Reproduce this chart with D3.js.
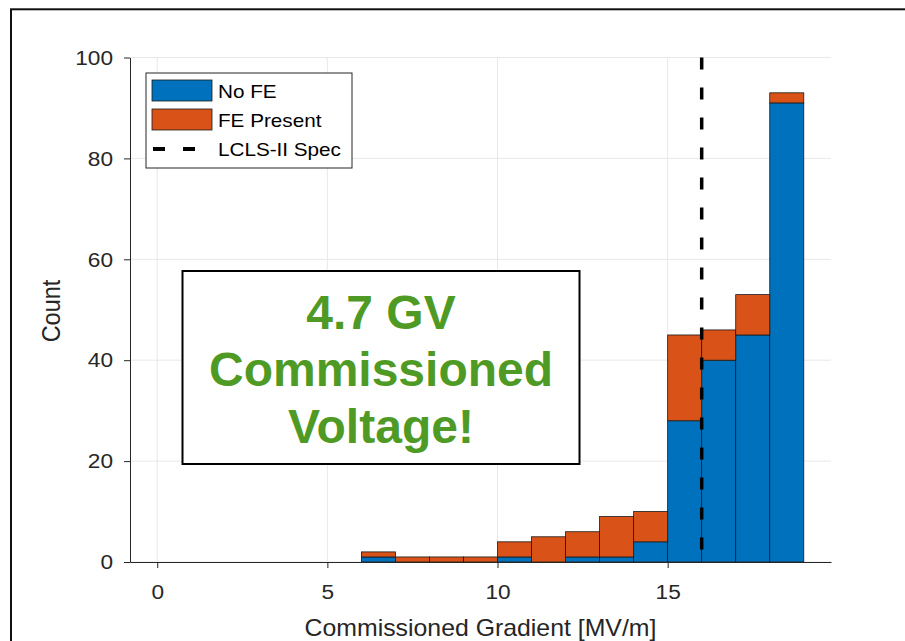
<!DOCTYPE html>
<html>
<head>
<meta charset="utf-8">
<script src="https://cdn.jsdelivr.net/npm/d3@7/dist/d3.min.js"></script>
<style>
  html, body { margin: 0; padding: 0; background: #fff; }
  svg { display: block; font-family: Arial, "Liberation Sans", sans-serif; }
</style>
</head>
<body>
<svg id="chart" width="905" height="641"></svg>
<script>
// Histogram bins (1 MV/m wide, labelled by lower edge)
const binStarts = [6, 7, 8, 9, 10, 11, 12, 13, 14, 15, 16, 17, 18];
// Cavity counts per bin
const noFE      = [1, 0, 0, 0, 1, 0, 1, 1, 4, 28, 40, 45, 91];
const fePresent = [1, 1, 1, 1, 3, 5, 5, 8, 6, 17, 6, 8, 2];
// Axis ticks
const xTicks = [0, 5, 10, 15];
const yTicks = [0, 20, 40, 60, 80, 100];
// LCLS-II specification gradient
const specGradient = 16;
// Series names / legend
const seriesKeys = ["noFE", "fePresent"];
const seriesLabels = ["No FE", "FE Present"];
const specLabel = "LCLS-II Spec";
const seriesColors = ["#0072BD", "#D95319"];
// Callout text
const calloutLines = ["4.7 GV", "Commissioned", "Voltage!"];

const svg = d3.select("#chart");
const axisColor = "#262626";

// stretch a text element horizontally about its anchor x
function stretchText(sel, sx) {
  sel.each(function () {
    const t = d3.select(this);
    const x0 = +t.attr("x") || 0;
    t.attr("transform", `translate(${x0},0) scale(${sx},1) translate(${-x0},0)`);
  });
}

// outer frame
svg.append("rect")
  .attr("x", 11).attr("y", 9.3)
  .attr("width", 1000).attr("height", 1000)
  .attr("fill", "none").attr("stroke", "#111").attr("stroke-width", 2);

const x = d3.scaleLinear().domain([-0.8, 19.8]).range([130, 831]);
const y = d3.scaleLinear().domain([0, 100]).range([562, 57.5]);

// grid
const grid = svg.append("g").attr("stroke", "#e8e8e8").attr("stroke-width", 1);
grid.selectAll("line.v").data(xTicks).join("line")
  .attr("x1", d => x(d)).attr("x2", d => x(d))
  .attr("y1", y(0)).attr("y2", y(100));
grid.selectAll("line.h").data(yTicks).join("line")
  .attr("x1", x.range()[0]).attr("x2", x.range()[1])
  .attr("y1", d => y(d)).attr("y2", d => y(d));

// stacked bars
const rows = binStarts.map((b, i) => ({ bin: b, noFE: noFE[i], fePresent: fePresent[i] }));
const stacked = d3.stack().keys(seriesKeys)(rows);
svg.append("g").selectAll("g").data(stacked).join("g")
  .attr("fill", (d, i) => seriesColors[i])
  .selectAll("rect").data(d => d.filter(s => s[1] - s[0] > 0)).join("rect")
  .attr("x", d => x(d.data.bin))
  .attr("width", d => x(d.data.bin + 1) - x(d.data.bin))
  .attr("y", d => y(d[1]))
  .attr("height", d => y(d[0]) - y(d[1]))
  .attr("stroke", "#1a1a1a").attr("stroke-width", 0.8);

// spec line
svg.append("line")
  .attr("x1", x(specGradient)).attr("x2", x(specGradient))
  .attr("y1", y(100)).attr("y2", y(0))
  .attr("stroke", "#000").attr("stroke-width", 3.5)
  .attr("stroke-dasharray", "12,18");

// axes
const xAxis = svg.append("g").attr("transform", `translate(0,${y(0)})`)
  .call(d3.axisBottom(x).tickValues(xTicks).tickSize(6).tickSizeOuter(0).tickPadding(16));
const yAxis = svg.append("g").attr("transform", `translate(${x.range()[0]},0)`)
  .call(d3.axisLeft(y).tickValues(yTicks).tickSize(6).tickSizeOuter(0).tickPadding(11));
[xAxis, yAxis].forEach(a => {
  a.select(".domain").attr("stroke", axisColor).attr("stroke-width", 1);
  a.selectAll(".tick line").attr("stroke", axisColor);
  a.selectAll(".tick text").attr("fill", axisColor)
    .style("font-size", "21px").style("font-family", "Arial, 'Liberation Sans', sans-serif");
});
stretchText(yAxis.selectAll(".tick text"), 1.08);
xAxis.selectAll(".tick text").attr("transform", "scale(1.08,1)");

// axis titles
svg.append("text")
  .attr("x", (x.range()[0] + x.range()[1]) / 2).attr("y", 636)
  .attr("text-anchor", "middle").attr("fill", axisColor)
  .style("font-size", "23px")
  .text("Commissioned Gradient [MV/m]")
  .call(stretchText, 1.08);
svg.append("text")
  .attr("transform", "translate(60,311) rotate(-90) scale(1,1.08)")
  .attr("text-anchor", "middle").attr("fill", axisColor)
  .style("font-size", "23.5px")
  .text("Count");

// legend
const lg = svg.append("g");
lg.append("rect").attr("x", 146).attr("y", 73).attr("width", 206).attr("height", 95)
  .attr("fill", "#fff").attr("stroke", axisColor).attr("stroke-width", 1);
seriesLabels.forEach((lab, i) => {
  const top = 80 + i * 29;
  lg.append("rect").attr("x", 152).attr("y", top).attr("width", 60).attr("height", 21)
    .attr("fill", seriesColors[i]).attr("stroke", "#1a1a1a").attr("stroke-width", 0.8);
  lg.append("text").attr("x", 218).attr("y", top + 18).attr("fill", "#000")
    .style("font-size", "18px").text(lab).call(stretchText, 1.15);
});
lg.append("line").attr("x1", 153).attr("x2", 212).attr("y1", 149).attr("y2", 149)
  .attr("stroke", "#000").attr("stroke-width", 4).attr("stroke-dasharray", "12,18");
lg.append("text").attr("x", 218).attr("y", 156).attr("fill", "#000")
  .style("font-size", "18px").text(specLabel).call(stretchText, 1.15);

// callout box
const cb = svg.append("g");
cb.append("rect").attr("x", 182.5).attr("y", 271).attr("width", 397).attr("height", 193)
  .attr("fill", "#fff").attr("stroke", "#000").attr("stroke-width", 2);
cb.selectAll("text").data(calloutLines).join("text")
  .attr("x", 381).attr("y", (d, i) => 329 + i * 57)
  .attr("text-anchor", "middle").attr("fill", "#4F9A25")
  .style("font-size", "48px").style("font-weight", "bold")
  .text(d => d);
</script>
</body>
</html>
